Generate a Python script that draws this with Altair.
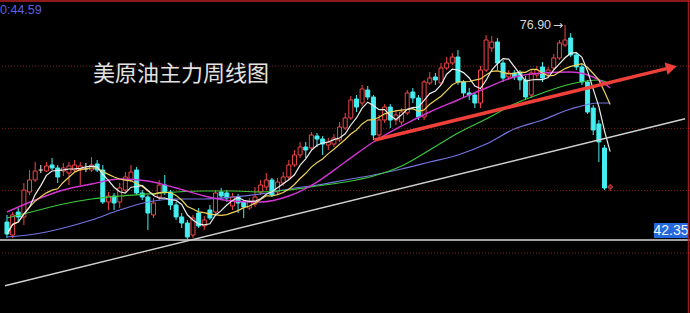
import altair as alt
import pandas as pd

# Weekly OHLC for the US crude main contract, oldest week first
opens = [45.24, 43.15, 46.85, 46.05, 50.07, 52.00, 53.60, 53.44, 54.41, 53.93,
         53.44, 53.12, 53.60, 53.60, 53.76, 53.60, 54.57, 53.60, 48.46, 49.42,
         48.46, 50.39, 52.00, 53.60, 49.91, 49.26, 46.37, 49.26, 51.19, 50.07,
         47.98, 46.05, 45.08, 43.15, 46.69, 44.60, 47.17, 46.85, 50.07, 49.91,
         47.81, 49.26, 48.46, 47.49, 48.14, 50.07, 50.87, 52.00, 50.07, 51.51,
         52.48, 54.41, 56.02, 57.30, 57.14, 59.07, 58.59, 57.62, 57.78, 58.43,
         60.36, 61.97, 65.02, 64.38, 66.47, 65.34, 59.23, 61.64, 63.73, 61.64,
         61.32, 62.77, 66.15, 65.18, 62.13, 67.59, 68.56, 67.59, 70.01, 70.81,
         71.77, 67.75, 65.99, 65.66, 64.38, 69.68, 73.22, 74.19, 70.81, 68.56,
         69.20, 69.20, 68.08, 65.66, 68.88, 70.17, 69.20, 70.01, 71.61, 73.70,
         74.83, 72.10, 70.17, 67.75, 63.57, 61.00, 57.14, 50.71]
highs = [46.37, 46.85, 47.49, 51.51, 53.60, 54.89, 54.41, 54.89, 55.53, 54.41,
         54.73, 54.89, 55.21, 54.89, 54.73, 55.69, 55.21, 54.41, 50.07, 49.91,
         51.51, 53.28, 54.41, 54.09, 50.39, 49.58, 49.10, 52.00, 52.80, 50.39,
         48.46, 46.69, 45.56, 46.37, 47.49, 46.21, 47.98, 50.39, 50.71, 50.39,
         49.91, 49.75, 48.78, 49.10, 50.87, 52.00, 53.12, 52.32, 52.32, 53.28,
         55.21, 56.82, 58.11, 58.11, 59.71, 59.55, 59.07, 58.75, 59.39, 61.32,
         62.77, 65.50, 65.66, 67.27, 67.11, 65.66, 62.45, 64.22, 64.22, 63.25,
         63.57, 66.47, 66.79, 65.66, 68.08, 69.36, 69.20, 70.81, 71.77, 72.42,
         72.90, 68.08, 66.79, 66.15, 70.33, 75.31, 75.15, 74.83, 71.29, 69.68,
         69.68, 69.68, 68.72, 69.68, 70.33, 70.97, 70.17, 72.26, 74.51, 76.90,
         75.63, 72.58, 70.65, 68.08, 64.06, 61.64, 57.62, 51.35]
lows = [42.67, 42.67, 45.24, 44.76, 49.58, 51.67, 53.12, 53.28, 53.60, 51.51,
        52.64, 51.19, 53.28, 51.19, 53.28, 53.28, 53.28, 48.14, 47.17, 47.17,
        47.49, 50.07, 51.67, 49.58, 48.78, 43.96, 45.89, 48.78, 49.58, 47.17,
        45.56, 44.28, 42.35, 42.67, 44.28, 43.96, 45.56, 46.37, 48.78, 48.46,
        47.17, 46.69, 45.89, 47.17, 47.65, 49.58, 50.39, 49.26, 49.58, 51.03,
        52.00, 54.09, 55.53, 55.53, 56.82, 57.30, 56.02, 56.82, 57.30, 58.11,
        60.04, 61.64, 62.93, 63.90, 64.86, 58.43, 58.91, 61.16, 60.36, 60.84,
        60.84, 62.45, 64.38, 61.64, 61.64, 67.27, 67.27, 67.27, 69.68, 70.49,
        67.27, 65.18, 64.86, 63.57, 63.57, 69.36, 72.58, 69.68, 67.75, 68.08,
        68.08, 66.47, 64.86, 65.18, 68.40, 67.75, 68.56, 69.68, 71.29, 73.38,
        71.77, 69.68, 67.27, 62.61, 59.23, 54.89, 50.39, 50.23]
closes = [43.31, 46.37, 46.05, 50.39, 52.00, 53.44, 53.60, 54.25, 53.93, 52.48,
          53.93, 54.25, 54.41, 54.25, 53.76, 54.41, 53.60, 48.46, 49.42, 48.30,
          50.71, 52.48, 53.28, 49.91, 49.26, 46.69, 48.30, 51.19, 50.07, 47.98,
          46.05, 45.08, 42.83, 45.89, 44.60, 45.56, 45.89, 49.91, 49.42, 49.10,
          49.26, 48.30, 47.65, 48.46, 49.26, 51.19, 52.00, 49.58, 51.67, 52.48,
          54.41, 56.02, 57.30, 56.82, 59.23, 58.59, 57.78, 58.11, 58.75, 60.52,
          61.97, 64.86, 63.73, 66.63, 65.34, 59.23, 61.64, 63.73, 61.64, 62.45,
          62.93, 65.99, 65.18, 62.13, 67.75, 68.40, 68.08, 70.01, 70.81, 71.77,
          67.75, 65.99, 65.66, 64.38, 69.68, 74.51, 74.19, 70.81, 68.40, 69.20,
          68.56, 68.08, 65.34, 69.20, 69.68, 68.40, 69.68, 71.61, 74.03, 74.51,
          72.10, 70.17, 67.75, 62.93, 60.04, 58.11, 50.71, 51.03]

# Longer moving averages (MA20 magenta, MA40 green, MA60 blue) at sampled weeks
ma_weeks = [0, 5, 10, 15, 20, 25, 30, 35, 40, 45, 50, 55, 60, 65, 70, 75,
            80, 85, 90, 95, 100, 105, 107]
ma20 = [46.85, 48.78, 50.39, 51.35, 52.16, 51.84, 50.71, 49.42, 48.62, 48.46,
        49.42, 51.67, 54.89, 58.11, 60.68, 62.93, 64.86, 66.79, 68.56, 69.20,
        69.36, 68.08, 66.79]
ma40 = [45.89, 47.01, 48.14, 48.94, 49.42, 49.75, 50.07, 50.23, 50.23, 50.07,
        50.39, 51.03, 51.67, 52.64, 54.25, 56.82, 59.55, 61.81, 64.22, 65.99,
        67.43, 68.08, 67.43]
ma60 = [42.83, 43.31, 44.28, 45.56, 47.17, 48.46, 48.94, 48.94, 49.26, 49.75,
        50.55, 51.19, 52.00, 52.80, 53.76, 54.89, 56.02, 57.78, 60.20, 61.64,
        63.41, 64.38, 64.38]

# Long-term support trend line and the red channel arrow parallel to it
support_weeks = [-0.35, 120.3]
support_prices = [35.00, 61.85]
arrow_weeks = [65.2, 117.0]
arrow_prices = [58.43, 69.91]
arrow_tip_week = [117.87]
arrow_tip_price = [70.10]

grid_prices = [40.26, 50.30, 60.30, 70.30]

title_text = "美原油主力周线图"
clock_text = "0:44.59"

RED = "#f04646"
CYAN = "#45eef0"
WHITE = "#e6e6e6"

xs = alt.Scale(domain=[-0.35, 120.28], nice=False, zero=False)
ys = alt.Scale(domain=[30.61, 80.94], nice=False, zero=False)

weeks = list(range(len(closes)))
kinds = ["up" if c > o else ("down" if c < o else "flat") for o, c in zip(opens, closes)]
candles = pd.DataFrame({"week": weeks, "open": opens, "high": highs,
                        "low": lows, "close": closes, "kind": kinds})
ma_df = pd.DataFrame({"week": ma_weeks, "ma20": ma20, "ma40": ma40, "ma60": ma60})
support_df = pd.DataFrame({"week": support_weeks, "price": support_prices})
arrow_df = pd.DataFrame({"week": arrow_weeks, "price": arrow_prices})
tip_df = pd.DataFrame({"week": arrow_tip_week, "price": arrow_tip_price})
grid_df = pd.DataFrame({"price": grid_prices})

low_value = min(lows)
high_idx = highs.index(max(highs))
low_df = pd.DataFrame({"price": [low_value], "label": [f"{low_value:.2f}"]})
high_df = pd.DataFrame({"week": [high_idx], "price": [max(highs)],
                        "label": [f"{max(highs):.2f}"], "arrow": ["→"]})

X = alt.X("week:Q", scale=xs, axis=None)

grid = alt.Chart(grid_df).mark_rule(color="#7a1e1e", strokeWidth=1, strokeDash=[1, 2]).encode(
    y=alt.Y("price:Q", scale=ys, axis=None))

low_line = alt.Chart(low_df).mark_rule(color="#d8d8d8", strokeWidth=1.5).encode(
    y=alt.Y("price:Q", scale=ys, axis=None))

base = alt.Chart(candles)

wicks = base.mark_rule(strokeWidth=1).encode(
    x=X,
    y=alt.Y("low:Q", scale=ys, axis=None), y2="high:Q",
    color=alt.Color("kind:N", scale=alt.Scale(domain=["up", "down", "flat"],
                                              range=[RED, CYAN, WHITE]), legend=None))

bodies = base.transform_filter("datum.kind != 'flat'").mark_bar(size=4, strokeWidth=1).encode(
    x=X,
    y=alt.Y("open:Q", scale=ys, axis=None), y2="close:Q",
    fill=alt.Fill("kind:N", scale=alt.Scale(domain=["up", "down"], range=["#000000", CYAN]), legend=None),
    stroke=alt.Stroke("kind:N", scale=alt.Scale(domain=["up", "down"], range=[RED, CYAN]), legend=None))

doji = base.transform_filter("datum.kind == 'flat'").transform_calculate(
    w0="datum.week - 0.4", w1="datum.week + 0.4").mark_rule(color=WHITE, strokeWidth=1).encode(
    x=alt.X("w0:Q", scale=xs, axis=None), x2="w1:Q",
    y=alt.Y("open:Q", scale=ys, axis=None))

ma5 = base.transform_window(ma5="mean(close)", frame=[-4, 0], sort=[{"field": "week"}]).mark_line(
    color="#ececec", strokeWidth=1.2).encode(x=X, y=alt.Y("ma5:Q", scale=ys, axis=None))
ma10 = base.transform_window(ma10="mean(close)", frame=[-9, 0], sort=[{"field": "week"}]).mark_line(
    color="#ecd25a", strokeWidth=1.2).encode(x=X, y=alt.Y("ma10:Q", scale=ys, axis=None))

ma_base = alt.Chart(ma_df)
line20 = ma_base.mark_line(color="#d236d2", strokeWidth=1.4, interpolate="monotone").encode(
    x=X, y=alt.Y("ma20:Q", scale=ys, axis=None))
line40 = ma_base.mark_line(color="#3cc83c", strokeWidth=1.2, interpolate="monotone").encode(
    x=X, y=alt.Y("ma40:Q", scale=ys, axis=None))
line60 = ma_base.mark_line(color="#7474e0", strokeWidth=1.2, interpolate="monotone").encode(
    x=X, y=alt.Y("ma60:Q", scale=ys, axis=None))

support = alt.Chart(support_df).mark_line(color="#d0d0d0", strokeWidth=1.4, clip=True).encode(
    x=X, y=alt.Y("price:Q", scale=ys, axis=None))

arrow_line = alt.Chart(arrow_df).mark_line(color="#ee4038", strokeWidth=3.5, strokeCap="butt").encode(
    x=X, y=alt.Y("price:Q", scale=ys, axis=None))
arrow_head = alt.Chart(tip_df).mark_point(shape="triangle-right", filled=True, size=160,
                                          angle=346.4, color="#ee4038", opacity=1).encode(
    x=X, y=alt.Y("price:Q", scale=ys, axis=None))

low_box = alt.Chart(low_df).mark_rect(color="#2468dc", yOffset=-2, y2Offset=-17).encode(
    x=alt.value(654), x2=alt.value(688),
    y=alt.Y("price:Q", scale=ys, axis=None), y2="price:Q")
low_text = alt.Chart(low_df).mark_text(font="Liberation Sans", fontSize=14, color="#f0f4ff",
                                       align="center", baseline="middle", dy=-9).encode(
    x=alt.value(671), y=alt.Y("price:Q", scale=ys, axis=None), text="label:N")

# Highest price marker: value text followed by a pointer arrow
high_text = alt.Chart(high_df).mark_text(font="Liberation Sans", fontSize=12.5, color="#d8d8d8",
                                         align="right", baseline="middle", dx=-14).encode(
    x=X, y=alt.Y("price:Q", scale=ys, axis=None), text="label:N")
high_arrow = alt.Chart(high_df).mark_text(font="DejaVu Sans", fontSize=12, color="#d8d8d8",
                                          align="right", baseline="middle", dx=-2).encode(
    x=X, y=alt.Y("price:Q", scale=ys, axis=None), text="arrow:N")

title = alt.Chart(pd.DataFrame({"t": [title_text]})).mark_text(
    font="Noto Sans CJK SC", fontSize=22, color="#e2e2e2", align="left", baseline="middle").encode(
    x=alt.value(93), y=alt.value(74), text="t:N")

clock = alt.Chart(pd.DataFrame({"t": [clock_text]})).mark_text(
    font="Liberation Sans", fontSize=12.5, color="#5f5fe0", align="left", baseline="middle").encode(
    x=alt.value(0), y=alt.value(10), text="t:N")

frame_df = pd.DataFrame({"k": [0]})
top_border = alt.Chart(frame_df).mark_rule(color="#8b1a1a", strokeWidth=2).encode(
    y=alt.value(1))
right_border = alt.Chart(frame_df).mark_rule(color="#a01c1c", strokeWidth=1.5).encode(
    x=alt.value(688.5))

chart = alt.layer(
    grid, low_line, wicks, bodies, doji, line60, line40, line20, ma10, ma5,
    support, arrow_line, arrow_head, low_box, low_text, high_text, high_arrow, title, clock,
    top_border, right_border,
).properties(
    width=690, height=313, background="#000000", padding=0,
    autosize=alt.AutoSizeParams(type="none"),
).configure_view(strokeWidth=0)

chart.save("out.html", embed_options={"renderer": "svg", "actions": False})
